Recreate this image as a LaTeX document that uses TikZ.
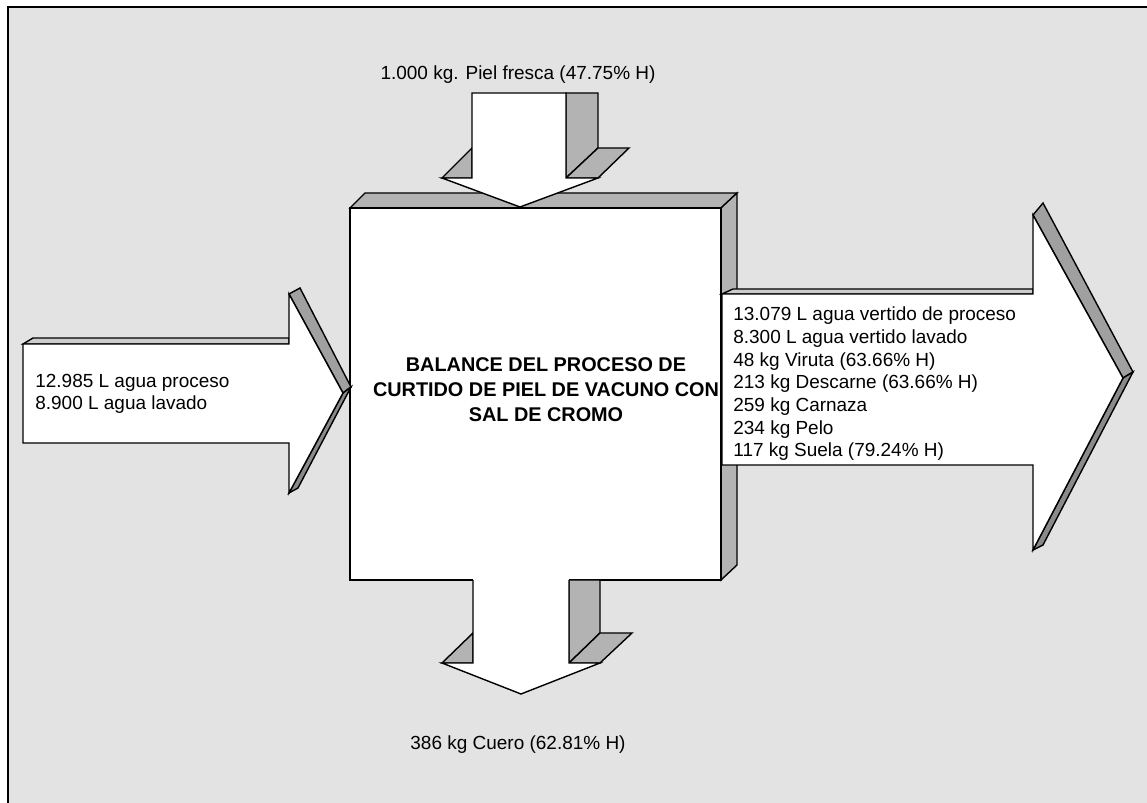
\documentclass[tikz,border=0pt]{standalone}
\usepackage{fontspec}
\setmainfont{Liberation Sans}
\usepackage{tikz}
\usetikzlibrary{positioning}
\definecolor{bgGray}{HTML}{E3E3E3}
\definecolor{sideGray}{HTML}{B3B3B3}
\definecolor{stripGray}{HTML}{A0A0A0}
\definecolor{stripDark}{HTML}{8A8A8A}
\definecolor{topGray}{HTML}{CCCCCC}

\begin{document}
\begin{tikzpicture}[
  x=0.02cm, y=-0.02cm,
  face/.style={draw, fill=white, line width=0.8pt},
  side/.style={draw, fill=sideGray, line width=0.8pt},
  strip/.style={draw, fill=stripGray, line width=0.8pt},
  stripdk/.style={draw, fill=stripDark, line width=0.8pt},
  shaft/.style={draw, fill=topGray, line width=0.8pt},
  lbl/.style={font=\fontsize{10.8}{12.9}\selectfont, inner sep=0pt, align=left},
  titletext/.style={font=\bfseries\fontsize{11.3}{14.2}\selectfont, inner sep=0pt, align=center},
]
  \useasboundingbox (0,0) rectangle (1147,803);
  % background frame
  \fill[bgGray] (8,7) rectangle (1147,803);
  \draw[line width=1.2pt] (8,803) -- (8,7) -- (1147,7);

  % central block
  \draw[side] (350,208) -- (365,193) -- (737,193) -- (721,208) -- cycle;
  \draw[side] (721,208) -- (737,193) -- (737,565) -- (721,580) -- cycle;
  \draw[face] (350,208) rectangle (721,580);
  \node[titletext] (balance) at (546,390) {BALANCE DEL PROCESO DE\\CURTIDO DE PIEL DE VACUNO CON\\SAL DE CROMO};

  % input from above
  \draw[side] (566,93) -- (598,93) -- (598,148) -- (566,178) -- cycle;
  \draw[side] (566,178) -- (598,148) -- (629,148) -- (598,178) -- cycle;
  \draw[side] (442,178) -- (472,148) -- (472,178) -- cycle;
  \draw[face] (472,93) -- (566,93) -- (566,178) -- (598,178) -- (520,207)
    -- (442,178) -- (472,178) -- cycle;
  \node[lbl] (piel) at (518,75) {1.000 kg. Piel fresca (47.75\% H)};

  % input from the left
  \draw[shaft] (23,344) -- (33,338) -- (289,338) -- (289,344) -- cycle;
  \draw[strip] (289,294) -- (300,288) -- (351,387) -- (343,393) -- cycle;
  \draw[stripdk] (343,393) -- (351,387) -- (298,488) -- (289,493) -- cycle;
  \draw[face] (23,344) -- (289,344) -- (289,294) -- (343,393) -- (289,493)
    -- (289,443) -- (23,443) -- cycle;
  \node[lbl, anchor=west] (agua) at (35,394) {12.985 L agua proceso\\8.900 L agua lavado};

  % output below
  \draw[side] (569,580) -- (600,580) -- (600,633) -- (569,663) -- cycle;
  \draw[side] (569,663) -- (600,633) -- (632,633) -- (600,663) -- cycle;
  \draw[side] (442,663) -- (473,633) -- (473,663) -- cycle;
  \fill[white] (473,579) rectangle (569,600);
  \draw[face] (473,580) -- (473,663) -- (442,663) -- (521,694) -- (600,663)
    -- (569,663) -- (569,580);
  \node[lbl] (cuero) at (518,745) {386 kg Cuero (62.81\% H)};

  % output to the right
  \draw[shaft] (722,294) -- (733,289) -- (1033,289) -- (1033,294) -- cycle;
  \draw[strip] (1033,215) -- (1043,203) -- (1133,372) -- (1123,378) -- cycle;
  \draw[stripdk] (1123,378) -- (1133,372) -- (1043,545) -- (1033,550) -- cycle;
  \draw[face] (722,294) -- (1033,294) -- (1033,215) -- (1123,378) -- (1033,550)
    -- (1033,465) -- (722,465) -- cycle;
  \node[lbl, anchor=west] (salidas) at (733,384) {13.079 L agua vertido de proceso\\8.300 L agua vertido lavado\\48 kg Viruta (63.66\% H)\\213 kg Descarne (63.66\% H)\\259 kg Carnaza\\234 kg Pelo\\117 kg Suela (79.24\% H)};
\end{tikzpicture}
\end{document}
